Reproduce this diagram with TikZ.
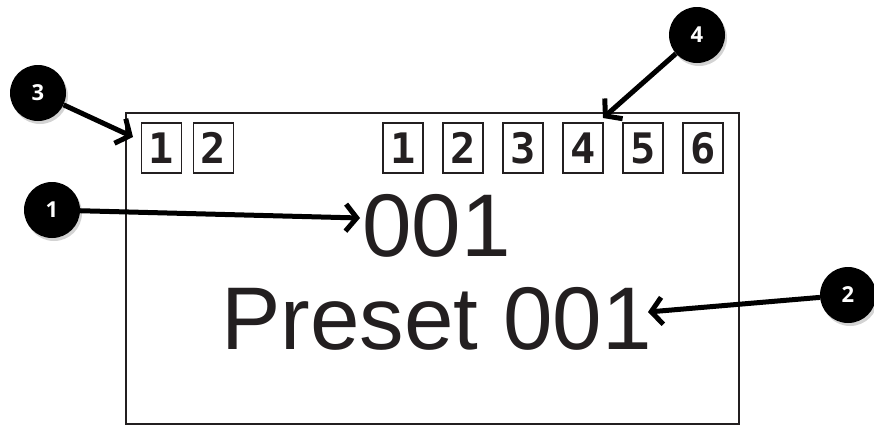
\documentclass[tikz,border=0pt]{standalone}
\usepackage{fontspec}
\setmainfont{Liberation Sans}
\newfontfamily\badgefont{Open Sans}
\newfontfamily\pixfont{DejaVu Sans Mono}
\usetikzlibrary{arrows.meta,shadows}
\definecolor{ink}{HTML}{231F20}
\tikzset{
  chanbox/.style={draw=ink, line width=1.6pt, minimum width=40pt, minimum height=50pt,
    inner sep=0pt, text=ink, font=\pixfont\bfseries\fontsize{42}{42}\selectfont},
  badge/.style={circle, fill=black, text=white, minimum size=56pt, inner sep=0pt,
    font=\badgefont\bfseries\fontsize{22}{22}\selectfont,
    drop shadow={shadow xshift=2pt, shadow yshift=-3pt, opacity=0.35}},
  pointer/.style={line width=5pt, black, -{Straight Barb[length=11pt,width=27pt]}},
  bigtext/.style={inner sep=0pt, anchor=base west, text=ink, font=\fontsize{89}{89}\selectfont}
}
\begin{document}
\begin{tikzpicture}[x=1pt,y=-1pt]
    \useasboundingbox (0,0) rectangle (874,424);

    % Define the display frame
    \node[draw=ink, line width=2pt, minimum width=613pt, minimum height=311pt,
      inner sep=0pt, anchor=north west] (screen) at (125,112) {};

    % Channel boxes
    \foreach \i in {1,2}
      \node[chanbox] (cv\i) at ({109.5+52*\i},148) {\i};
    \foreach \i in {1,...,6}
      \node[chanbox] (ch\i) at ({343+60*\i},148) {\i};

    % Preset number and name
    \node[bigtext] (value) at (362,256) {001};
    \node[bigtext] (name) at (221,349) {Preset 001};

    % Label the regions
    \node[badge] (n1) at (52,210) {1};
    \node[badge] (n2) at (848,295) {2};
    \node[badge] (n3) at (38,93) {3};
    \node[badge] (n4) at (697,35) {4};

    % Arrow tips
    \coordinate (t1) at (360,218);
    \coordinate (t2) at (648,312);
    \coordinate (t3) at (133,137);
    \coordinate (t4) at (603,118);

    \draw[pointer] (n1) -- (t1);
    \draw[pointer] (n2) -- (t2);
    \draw[pointer] (n3) -- (t3);
    \draw[pointer] (n4) -- (t4);

\end{tikzpicture}
\end{document}
